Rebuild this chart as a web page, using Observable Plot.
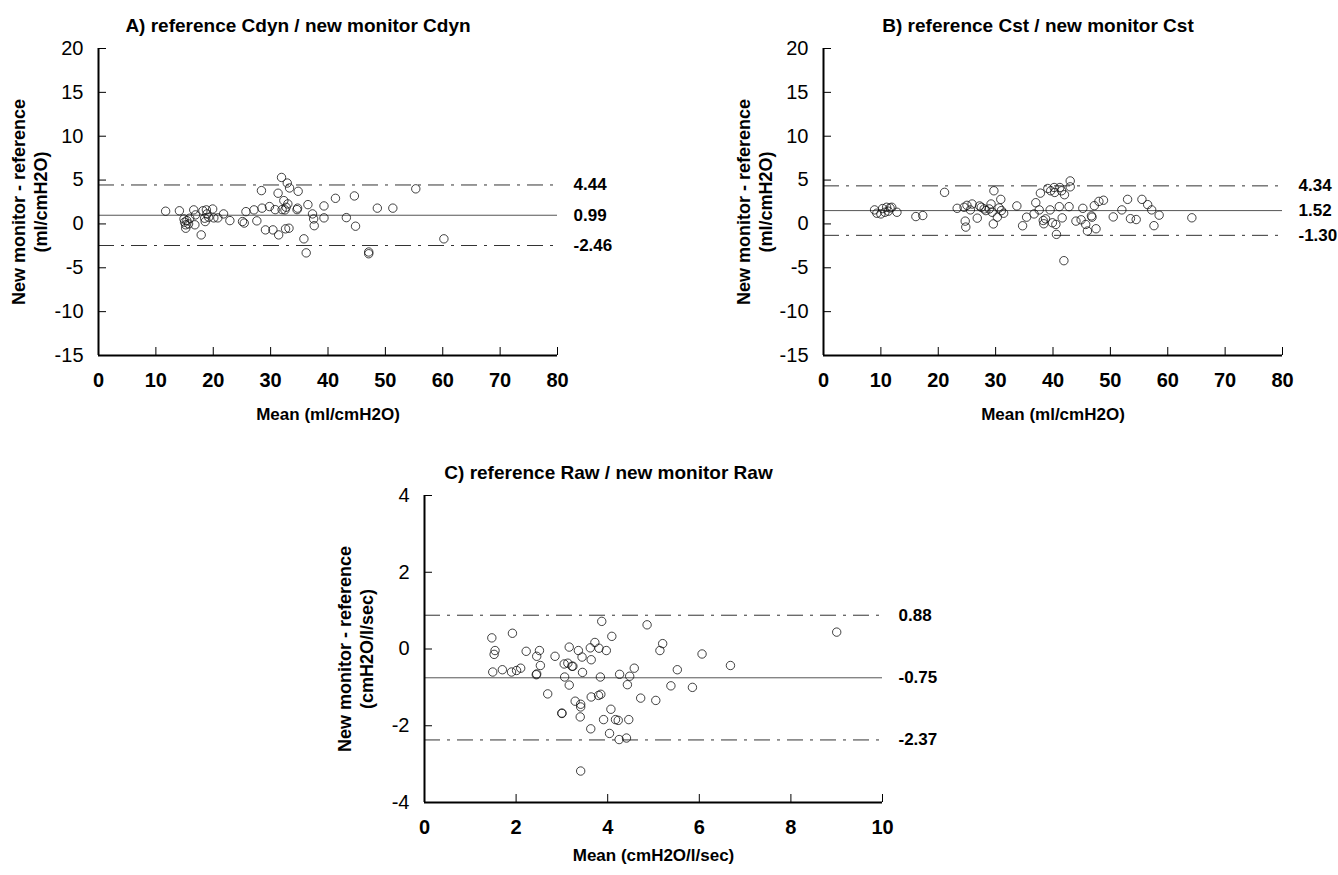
<!DOCTYPE html>
<html><head><meta charset="utf-8">
<script src="https://cdn.jsdelivr.net/npm/d3@7"></script>
<script src="https://cdn.jsdelivr.net/npm/@observablehq/plot@0.6"></script>
<style>
body{margin:0;background:#fff;}
#wrap{position:relative;width:1338px;height:875px;overflow:hidden;background:#fff;}
.panel{position:absolute;}
</style></head><body><div id="wrap"></div>
<script>
// ---- data ----
const titles = ["A) reference Cdyn / new monitor Cdyn", "B) reference Cst / new monitor Cst", "C) reference Raw / new monitor Raw"];
const xLabels = ["Mean (ml/cmH2O)", "Mean (ml/cmH2O)", "Mean (cmH2O/l/sec)"];
const yLabelLine1 = "New monitor - reference";
const yLabelLine2 = ["(ml/cmH2O)", "(ml/cmH2O)", "(cmH2O/l/sec)"];

const cdynLimits = [4.44, 0.99, -2.46];
const cstLimits = [4.34, 1.52, -1.30];
const rawLimits = [0.88, -0.75, -2.37];

const xTicksAB = [0, 10, 20, 30, 40, 50, 60, 70, 80];
const yTicksAB = [20, 15, 10, 5, 0, -5, -10, -15];
const xTicksC = [0, 2, 4, 6, 8, 10];
const yTicksC = [4, 2, 0, -2, -4];

// [mean, difference]
const cdynPoints = [[11.7,1.45],[14.1,1.5],[14.9,0.57],[15.0,0.2],[15.2,-0.1],[15.2,-0.49],[15.4,0.38],[15.7,0.0],[15.9,0.65],[16.6,1.6],[16.8,-0.1],[16.9,1.03],[17.9,-1.25],[18.2,1.5],[18.5,0.65],[18.6,0.27],[18.8,1.6],[18.9,1.14],[19.2,0.76],[19.9,1.7],[20.1,0.69],[20.8,0.69],[21.8,1.14],[22.9,0.38],[25.1,0.27],[25.4,0.1],[25.7,1.4],[27.1,1.6],[27.6,0.35],[28.4,3.8],[28.5,1.8],[29.1,-0.68],[29.8,1.98],[30.4,-0.68],[30.8,1.63],[31.3,3.5],[31.4,-1.25],[31.9,5.3],[32.0,1.63],[32.3,2.66],[32.5,1.6],[32.6,-0.56],[32.7,1.9],[32.9,4.66],[33.0,2.28],[33.2,-0.49],[33.3,4.1],[34.6,1.63],[34.7,1.8],[34.8,3.72],[35.8,-1.7],[36.2,-3.3],[36.5,2.2],[37.3,1.14],[37.5,0.57],[37.6,-0.2],[39.3,2.05],[39.3,0.69],[41.3,2.92],[43.2,0.72],[44.6,3.19],[44.8,-0.26],[47.1,-3.2],[47.1,-3.4],[48.6,1.8],[51.3,1.8],[55.3,4.0],[60.2,-1.7]];

const cstPoints = [[8.9,1.6],[9.3,1.22],[10.0,1.14],[10.3,1.75],[10.7,1.33],[11.0,1.9],[11.3,1.45],[11.6,1.82],[11.9,1.9],[12.8,1.33],[16.1,0.84],[17.3,0.96],[21.1,3.6],[23.3,1.78],[24.5,1.9],[24.7,0.32],[24.8,-0.36],[25.0,2.12],[25.6,1.6],[25.9,2.27],[26.8,0.66],[27.2,2.05],[27.5,1.9],[28.0,1.71],[28.3,1.52],[28.9,1.71],[29.2,2.27],[29.4,1.33],[29.6,0.0],[29.7,3.78],[30.3,0.77],[30.6,1.82],[30.9,2.8],[31.0,1.52],[31.4,1.22],[33.7,2.05],[34.7,-0.21],[35.4,0.77],[36.7,1.14],[37.0,2.42],[37.6,1.6],[37.8,3.51],[38.3,0.39],[38.4,0.02],[38.7,0.58],[39.1,4.04],[39.5,1.6],[39.6,3.78],[39.9,0.13],[40.2,4.15],[40.3,3.59],[40.5,-0.06],[40.6,-1.19],[41.1,1.97],[41.2,4.15],[41.5,3.78],[41.6,0.69],[42.0,3.33],[42.8,1.97],[43.0,4.9],[43.0,4.23],[41.9,-4.19],[44.0,0.32],[44.9,0.47],[45.2,1.78],[45.7,-0.06],[46.0,-0.81],[46.7,0.92],[46.8,0.77],[47.2,2.08],[47.5,-0.55],[48.0,2.57],[48.8,2.7],[50.5,0.8],[52.0,1.6],[53.0,2.8],[53.5,0.6],[54.5,0.5],[55.5,2.8],[56.5,2.2],[57.2,1.6],[57.6,-0.2],[58.5,1.0],[64.2,0.7]];

const rawPoints = [[1.47,0.29],[1.54,-0.04],[1.52,-0.14],[1.49,-0.6],[1.70,-0.54],[1.92,0.41],[1.90,-0.6],[2.01,-0.56],[2.10,-0.5],[2.22,-0.06],[2.45,-0.19],[2.51,-0.04],[2.53,-0.43],[2.44,-0.67],[2.45,-0.65],[2.69,-1.17],[2.85,-0.19],[3.0,-1.68],[3.0,-1.67],[3.05,-0.39],[3.06,-0.73],[3.16,-0.94],[3.13,-0.37],[3.16,0.05],[3.22,-0.45],[3.24,-0.45],[3.29,-1.36],[3.36,-0.04],[3.41,-1.44],[3.41,-1.51],[3.40,-1.77],[3.44,-0.21],[3.45,-0.61],[3.41,-3.18],[3.62,0.03],[3.64,-0.28],[3.64,-1.25],[3.72,0.17],[3.63,-2.08],[3.80,-1.21],[3.85,-1.18],[3.81,0.02],[3.87,0.72],[3.84,-0.73],[3.91,-1.84],[3.97,-0.04],[4.07,-1.57],[4.09,0.33],[4.04,-2.2],[4.17,-1.84],[4.23,-1.86],[4.25,-2.36],[4.26,-0.66],[4.41,-2.32],[4.43,-0.93],[4.46,-1.84],[4.48,-0.71],[4.58,-0.5],[4.72,-1.28],[4.86,0.63],[5.05,-1.34],[5.14,-0.04],[5.20,0.14],[5.38,-0.96],[5.52,-0.54],[5.85,-1.0],[6.06,-0.13],[6.68,-0.43],[9.0,0.44]];

// ---- drawing ----
const FONT = "'Liberation Sans', Arial, Helvetica, sans-serif";

function makePanel(cfg) {
  const plot = Plot.plot({
    width: cfg.ml + cfg.pw + cfg.mr,
    height: cfg.mt + cfg.ph + cfg.mb,
    marginLeft: cfg.ml, marginRight: cfg.mr, marginTop: cfg.mt, marginBottom: cfg.mb,
    style: {fontFamily: FONT, background: "white", color: "#000", overflow: "visible"},
    x: {domain: cfg.xDomain},
    y: {domain: cfg.yDomain},
    marks: [
      Plot.ruleY([cfg.limits[1]], {stroke: "#555", strokeWidth: 1}),
      Plot.ruleY([cfg.limits[0], cfg.limits[2]], {stroke: "#333", strokeWidth: 1, strokeDasharray: "16,7,3,7"}),
      Plot.dot(cfg.points, {x: d => d[0], y: d => d[1], r: 4.2, stroke: "#111", strokeWidth: 0.8, fill: "none"}),
      Plot.axisY({ticks: cfg.yTicks, tickSize: -8, tickPadding: 23, fontSize: 20, label: null, tickFormat: d => String(d)}),
      Plot.axisX({ticks: cfg.xTicks, tickSize: -8, tickPadding: 25, fontSize: 20, fontWeight: "bold", label: null, tickFormat: d => String(d)}),
      Plot.ruleX([cfg.xDomain[0]], {stroke: "#000", strokeWidth: 2}),
      Plot.ruleY([cfg.yDomain[0]], {stroke: "#000", strokeWidth: 2}),
      Plot.text(cfg.limits, {y: d => d, text: d => d.toFixed(2), frameAnchor: "right", dx: 16, textAnchor: "start", fontWeight: "bold", fontSize: 17}),
      Plot.text([cfg.title], {text: d => d, frameAnchor: "top", textAnchor: "middle", dy: cfg.titleDy, dx: cfg.titleDx, fontWeight: "bold", fontSize: 19}),
      Plot.text([cfg.xLabel], {text: d => d, frameAnchor: "bottom", textAnchor: "middle", dy: cfg.xLabelDy, fontWeight: "bold", fontSize: 17}),
      Plot.text([yLabelLine1], {text: d => d, frameAnchor: "left", textAnchor: "middle", dx: -79, rotate: -90, fontWeight: "bold", fontSize: 18}),
      Plot.text([cfg.yLabel2], {text: d => d, frameAnchor: "left", textAnchor: "middle", dx: -57, rotate: -90, fontWeight: "bold", fontSize: 18})
    ]
  });
  const div = document.createElement("div");
  div.className = "panel";
  div.style.left = cfg.left + "px";
  div.style.top = cfg.top + "px";
  div.appendChild(plot);
  document.getElementById("wrap").appendChild(div);
}

makePanel({left: 0, top: 0, ml: 98, pw: 459, mr: 112, mt: 48, ph: 307, mb: 85,
  xDomain: [0, 80], yDomain: [-15, 20], xTicks: xTicksAB, yTicks: yTicksAB,
  limits: cdynLimits, points: cdynPoints, title: titles[0], titleDx: -30, titleDy: -30,
  xLabel: xLabels[0], xLabelDy: 64, yLabel2: yLabelLine2[0]});

makePanel({left: 669, top: 0, ml: 154, pw: 459, mr: 56, mt: 48, ph: 307, mb: 85,
  xDomain: [0, 80], yDomain: [-15, 20], xTicks: xTicksAB, yTicks: yTicksAB,
  limits: cstLimits, points: cstPoints, title: titles[1], titleDx: -15, titleDy: -30,
  xLabel: xLabels[1], xLabelDy: 64, yLabel2: yLabelLine2[1]});

makePanel({left: 300, top: 440, ml: 124, pw: 458, mr: 118, mt: 55, ph: 307, mb: 73,
  xDomain: [0, 10], yDomain: [-4, 4], xTicks: xTicksC, yTicks: yTicksC,
  limits: rawLimits, points: rawPoints, title: titles[2], titleDx: -45, titleDy: -30,
  xLabel: xLabels[2], xLabelDy: 58, yLabel2: yLabelLine2[2]});
</script>
</body></html>
